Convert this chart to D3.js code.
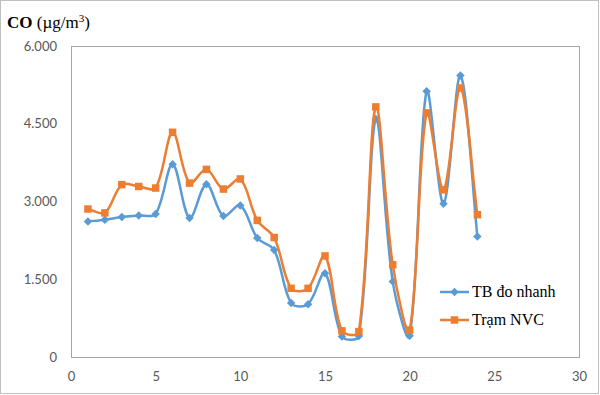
<!DOCTYPE html>
<html>
<head>
<meta charset="utf-8">
<script src="https://cdn.jsdelivr.net/npm/d3@7"></script>
<style>
    body { margin: 0; background: #fff; }
    svg { display: block; }
</style>
</head>
<body>
<svg id="chart" width="600" height="395"></svg>
<script>
(function () {
    'use strict';

    // day index 1..24
    var days = [1, 2, 3, 4, 5, 6, 7, 8, 9, 10, 11, 12, 13, 14, 15, 16, 17, 18, 19, 20, 21, 22, 23, 24];
    var tbDoNhanh = [2615, 2650, 2700, 2730, 2760, 3720, 2680, 3335, 2720, 2925, 2295, 2065, 1040, 1020, 1615, 395,
        405, 4590, 1455, 410, 5125, 2955, 5430, 2325];
    var tramNVC = [2855, 2780, 3325, 3290, 3260, 4335, 3355, 3620, 3240, 3435, 2635, 2305, 1325, 1325, 1950, 505,
        490, 4825, 1780, 520, 4710, 3225, 5190, 2745];
    var yTicks = [0, 1500, 3000, 4500, 6000];
    var xTicks = [0, 5, 10, 15, 20, 25, 30];

    var series = [
        {name: 'TB đo nhanh', values: tbDoNhanh, color: '#5b9bd5', marker: d3.symbolDiamond2, size: 46},
        {name: 'Trạm NVC', values: tramNVC, color: '#ed7d31', marker: d3.symbolSquare, size: 56}
    ];

    var svg = d3.select('#chart');
    var plot = {left: 71, right: 579, top: 46, bottom: 357};

    var x = d3.scaleLinear().domain([0, 30]).range([plot.left, plot.right]);
    var y = d3.scaleLinear().domain([0, 6000]).range([plot.bottom, plot.top]);

    function dist(a, b) {
        return Math.sqrt((a[0] - b[0]) * (a[0] - b[0]) + (a[1] - b[1]) * (a[1] - b[1]));
    }

    // Excel-like smoothing: bezier handles scaled by the neighbouring segment lengths
    function smoothPath(pts) {
        var p = d3.path();
        p.moveTo(pts[0][0], pts[0][1]);
        for (var i = 0; i < pts.length - 1; i++) {
            var p0 = pts[Math.max(i - 1, 0)],
                p1 = pts[i],
                p2 = pts[i + 1],
                p3 = pts[Math.min(i + 2, pts.length - 1)];
            var d01 = dist(p0, p1), d12 = dist(p1, p2), d23 = dist(p2, p3);
            var r1 = (d01 + d12) > 0 ? d12 / (d01 + d12) / 3 : 0;
            var r2 = (d12 + d23) > 0 ? d12 / (d12 + d23) / 3 : 0;
            p.bezierCurveTo(
                p1[0] + (p2[0] - p0[0]) * r1, p1[1] + (p2[1] - p0[1]) * r1,
                p2[0] - (p3[0] - p1[0]) * r2, p2[1] - (p3[1] - p1[1]) * r2,
                p2[0], p2[1]);
        }
        return p.toString();
    }

    // outer chart border
    svg.append('rect')
        .attr('x', 0.5).attr('y', 0.5)
        .attr('width', 598).attr('height', 393)
        .attr('fill', '#fff')
        .attr('stroke', '#bfbfbf');

    // plot area frame
    svg.append('rect')
        .attr('x', plot.left + 0.5).attr('y', plot.top + 0.5)
        .attr('width', plot.right - plot.left).attr('height', plot.bottom - plot.top)
        .attr('fill', 'none')
        .attr('stroke', '#a6a6a6');

    // title
    var title = svg.append('text')
        .attr('x', 7).attr('y', 28)
        .attr('font-family', '"Liberation Serif", "Times New Roman", serif')
        .attr('font-size', 17)
        .attr('fill', '#000');
    title.append('tspan').attr('font-weight', 'bold').text('CO');
    title.append('tspan').text(' (µg/m');
    title.append('tspan').attr('font-size', 11).attr('dy', -6).text('3');
    title.append('tspan').attr('dy', 6).text(')');

    var fmt = function (d) {
        return d === 0 ? '0' : d3.format(',.3f')(d / 1000).replace(',', '.');
    };

    var yAxis = d3.axisLeft(y).tickValues(yTicks).tickSize(0).tickPadding(14)
        .tickFormat(fmt);
    var xAxis = d3.axisBottom(x).tickValues(xTicks).tickSize(0).tickPadding(15);

    var gy = svg.append('g')
        .attr('transform', 'translate(' + plot.left + ',0)')
        .call(yAxis);
    var gx = svg.append('g')
        .attr('transform', 'translate(0,' + plot.bottom + ')')
        .call(xAxis);

    [gx, gy].forEach(function (g) {
        g.select('.domain').remove();
        g.selectAll('text')
            .attr('font-family', 'Lato, "Open Sans", sans-serif')
            .attr('font-size', 13)
            .attr('fill', '#595959');
    });

    series.forEach(function (s) {
        var pts = s.values.map(function (d, i) { return [x(days[i]), y(d)]; });
        var g = svg.append('g');
        g.append('path')
            .attr('d', smoothPath(pts))
            .attr('fill', 'none')
            .attr('stroke', s.color)
            .attr('stroke-width', 2.5)
            .attr('stroke-linejoin', 'round');
        g.selectAll('path.pt')
            .data(s.values)
            .enter().append('path')
            .attr('class', 'pt')
            .attr('transform', function (d, i) { return 'translate(' + x(days[i]) + ',' + y(d) + ')'; })
            .attr('d', d3.symbol().type(s.marker).size(s.size))
            .attr('fill', s.color);
    });

    // legend
    var legend = svg.append('g').attr('transform', 'translate(440,292)');
    series.forEach(function (s, i) {
        var row = legend.append('g').attr('transform', 'translate(0,' + (i * 28) + ')');
        row.append('line')
            .attr('x1', 0).attr('x2', 29)
            .attr('stroke', s.color)
            .attr('stroke-width', 2.5);
        row.append('path')
            .attr('transform', 'translate(14.5,0)')
            .attr('d', d3.symbol().type(s.marker).size(s.size))
            .attr('fill', s.color);
        row.append('text')
            .attr('x', 32).attr('y', 5)
            .attr('font-family', '"Liberation Serif", "Times New Roman", serif')
            .attr('font-size', 16)
            .attr('fill', '#000')
            .text(s.name);
    });
}());
</script>
</body>
</html>
